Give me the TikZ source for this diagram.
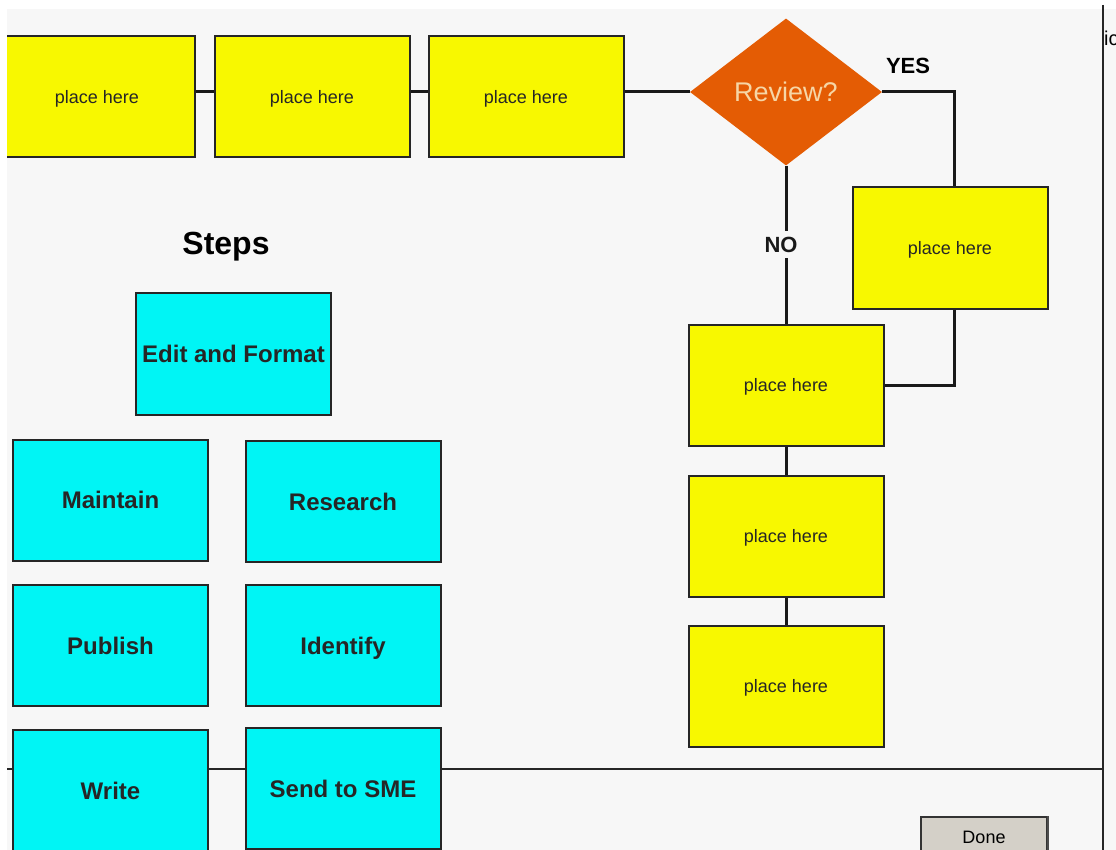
\documentclass[tikz,border=0pt]{standalone}
\usepackage{fontspec}
\setmainfont{Liberation Sans}
\usetikzlibrary{shapes.geometric}
\definecolor{boxyellow}{RGB}{248,248,0}
\definecolor{boxcyan}{RGB}{0,245,245}
\definecolor{panelgray}{RGB}{247,247,247}
\definecolor{revorange}{RGB}{228,92,4}
\definecolor{revtext}{RGB}{246,214,166}
\definecolor{btngray}{RGB}{212,208,200}
\begin{document}
\begin{tikzpicture}[x=1pt,y=-1pt,line join=miter]
	\tikzset{slot/.style={draw=black!85,line width=2pt,fill=boxyellow,minimum width=195pt,minimum height=121pt,inner sep=0pt,text depth=0pt,text=black!85,font=\fontsize{18}{20}\selectfont},
		stepbox/.style={slot,fill=boxcyan,font=\bfseries\fontsize{24}{26}\selectfont},
		link/.style={line width=3pt,black!90},
		answer/.style={font=\bfseries\fontsize{22}{24}\selectfont}}
	\useasboundingbox (0,0) rectangle (1116,850);
	\fill[white] (0,0) rectangle (1116,850);
	\fill[panelgray] (7,9) rectangle (1116,850);
	\draw[line width=1.4pt,black!85] (7,769)--(1103,769);
	\draw[line width=1.4pt,black!85] (1103,5)--(1103,850);
	\node[anchor=west,inner sep=0pt,font=\fontsize{20}{22}\selectfont] (cut) at (1104,38) {ic};
	% top row
	\begin{scope}
		\clip (7,9) rectangle (1116,850);
		\node[slot] (s1) at (97,97) {place here};
	\end{scope}
	\node[slot] (s2) at (312,97) {place here};
	\node[slot] (s3) at (526,97) {place here};
	\node[diamond,fill=revorange,minimum width=192pt,minimum height=147pt,inner sep=0pt,aspect=1.3,text=revtext,font=\fontsize{27}{29}\selectfont] (rev) at (786,92) {Review?};
	% right column
	\node[slot] (sy) at (950,248) {place here};
	\node[slot] (sa) at (786,385) {place here};
	\node[slot] (sb) at (786,536) {place here};
	\node[slot] (sc) at (786,686) {place here};
	\draw[link] (s1.east |- rev)--(s2.west |- rev);
	\draw[link] (s2.east |- rev)--(s3.west |- rev);
	\draw[link] (s3.east |- rev)--(rev.west);
	\draw[link] (rev.east) -| ([xshift=4pt]sy.north);
	\node[answer] (yes) at (908,66) {YES};
	\draw[link] ([xshift=4pt]sy.south) |- (sa.east);
	\draw[link] (rev.south)--(sa.north) node[midway,answer,fill=panelgray,inner sep=6pt,xshift=-5pt] (no) {NO};
	\draw[link] (sa.south)--(sb.north);
	\draw[link] (sb.south)--(sc.north);
	% steps
	\node[font=\bfseries\fontsize{32}{34}\selectfont] (title) at (226,247) {Steps};
	\node[stepbox] (edit) at (233.5,354) {Edit and Format};
	\node[stepbox] (maint) at (110.5,500) {Maintain};
	\node[stepbox] (research) at (343,501.5) {Research};
	\node[stepbox] (publish) at (110.5,645.5) {Publish};
	\node[stepbox] (identify) at (343,645.5) {Identify};
	\node[stepbox] (write) at (110.5,790.5) {Write};
	\node[stepbox] (sme) at (343,788.5) {Send to SME};
	% button
	\node[draw=black!80,line width=1.2pt,fill=btngray,minimum width=126pt,minimum height=40pt,font=\fontsize{18}{20}\selectfont] (done) at (984,837) {Done};
	\draw[line width=2pt,black!70] (done.north east)--(done.south east);
\end{tikzpicture}
\end{document}
